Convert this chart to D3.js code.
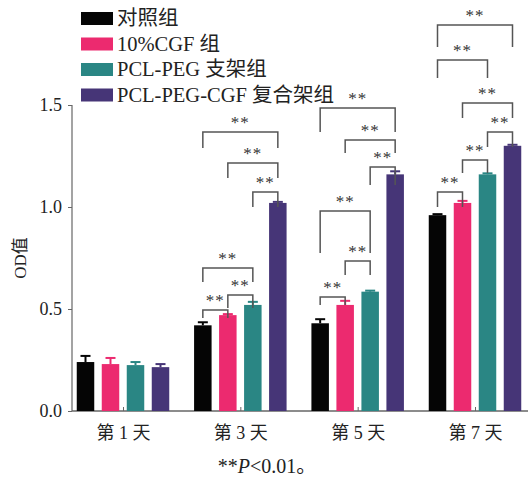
<!DOCTYPE html>
<html><head><meta charset="utf-8">
<script src="https://cdn.jsdelivr.net/npm/d3@7/dist/d3.min.js"></script>
<style>
body{margin:0;background:#fff;}
text{font-family:"Liberation Serif","Times New Roman","Noto Sans CJK SC",serif;}
</style></head>
<body><svg id="c" width="530" height="487"></svg>
<script>
const categories = ["第 1 天","第 3 天","第 5 天","第 7 天"];
const seriesNames = ["对照组","10%CGF 组","PCL-PEG 支架组","PCL-PEG-CGF 复合架组"];
const seriesColors = ["#050505","#ec2a6f","#2a8684","#463577"];
const control   = [0.24,0.42,0.43,0.96];
const cgf       = [0.23,0.47,0.52,1.02];
const scaffold  = [0.225,0.52,0.585,1.16];
const composite = [0.215,1.02,1.16,1.30];
const controlErr   = [0.03,0.015,0.02,0.005];
const cgfErr       = [0.03,0.005,0.02,0.01];
const scaffoldErr  = [0.015,0.015,0.005,0.005];
const compositeErr = [0.015,0.005,0.015,0.005];
const yTicks = [0.0,0.5,1.0,1.5];
// significance brackets: group, from series, to series, level (OD), leg end (OD)
const bracketGroup = [1,1,1,1,1,1, 2,2,2,2,2,2, 3,3,3,3,3,3];
const bracketFrom  = [0,1,2,0,1,0, 0,1,2,0,1,0, 0,0,1,2,1,0];
const bracketTo    = [3,3,3,2,2,1, 3,3,3,2,2,1, 3,2,3,3,2,1];
const bracketLevel = [1.368,1.216,1.074,0.701,0.569,0.495, 1.485,1.328,1.196,0.980,0.735,0.559, 1.892,1.721,1.510,1.368,1.230,1.074];
const bracketLegEnd= [1.289,1.142,1.000,0.632,0.505,0.456, 1.368,1.265,1.108,0.775,0.667,0.520, 1.784,1.632,1.436,1.294,1.167,1.000];

const values = [control,cgf,scaffold,composite];
const errs = [controlErr,cgfErr,scaffoldErr,compositeErr];
const svg = d3.select("#c");
const axisColor = "#666";

const x0 = d3.scalePoint().domain(categories).range([123,475]);
const x1 = d3.scaleBand().domain(d3.range(4)).range([-50,50]).paddingInner(0.3).paddingOuter(0.15);
const y = d3.scaleLinear().domain([0,1.5]).range([411,105]);
const barCx = (g,s)=> x0(categories[g]) + x1(s) + x1.bandwidth()/2;

// axes
svg.append("line").attr("x1",72).attr("x2",528).attr("y1",y(0)).attr("y2",y(0)).attr("stroke",axisColor).attr("stroke-width",1.5);
svg.append("line").attr("x1",72).attr("x2",72).attr("y1",y(0)).attr("y2",y(1.5)).attr("stroke",axisColor).attr("stroke-width",1.2);
const yAxis = svg.append("g").attr("transform","translate(72,0)")
  .call(d3.axisLeft(y).tickValues(yTicks).tickFormat(d3.format(".1f")).tickSize(4).tickPadding(6));
yAxis.select(".domain").remove();
yAxis.selectAll("line").attr("stroke",axisColor);
yAxis.selectAll("text").attr("font-size",18).attr("fill","#222");
const xAxis = svg.append("g").attr("transform",`translate(0,${y(0)})`)
  .call(d3.axisBottom(x0).tickSize(-4).tickPadding(12));
xAxis.select(".domain").remove();
xAxis.selectAll("line").attr("stroke",axisColor);
xAxis.selectAll("text").attr("font-size",18).attr("fill","#222").attr("dy","0.9em");

svg.append("text").attr("transform","translate(26,258) rotate(-90)").attr("text-anchor","middle")
  .attr("font-size",17).attr("fill","#222").text("OD值");

// bars
for(let s=0;s<4;s++){
  const g = svg.append("g");
  categories.forEach((c,i)=>{
    const cx = barCx(i,s), w = x1.bandwidth();
    g.append("rect").attr("x",cx-w/2).attr("y",y(values[s][i])).attr("width",w)
      .attr("height",y(0)-y(values[s][i])).attr("fill",seriesColors[s]);
    const top = y(values[s][i]+errs[s][i]);
    g.append("line").attr("x1",cx).attr("x2",cx).attr("y1",y(values[s][i])).attr("y2",top)
      .attr("stroke",seriesColors[s]).attr("stroke-width",2);
    g.append("line").attr("x1",cx-5).attr("x2",cx+5).attr("y1",top).attr("y2",top)
      .attr("stroke",seriesColors[s]).attr("stroke-width",2);
  });
}

// brackets
bracketGroup.forEach((gi,k)=>{
  const xa = barCx(gi,bracketFrom[k]), xb = barCx(gi,bracketTo[k]);
  const yl = y(bracketLevel[k]), ye = y(bracketLegEnd[k]);
  svg.append("path").attr("d",`M${xa},${ye}V${yl}H${xb}V${ye}`)
    .attr("fill","none").attr("stroke","#555").attr("stroke-width",1.5);
  svg.append("text").attr("x",(xa+xb)/2).attr("y",yl-4).attr("text-anchor","middle")
    .attr("font-size",17).attr("letter-spacing",1).attr("fill","#333").text("**");
});

// legend
seriesNames.forEach((n,i)=>{
  const yy = 12 + i*25.5;
  svg.append("rect").attr("x",81).attr("y",yy).attr("width",32).attr("height",13).attr("fill",seriesColors[i]);
  svg.append("text").attr("x",117).attr("y",yy+13).attr("font-size",20.5).attr("fill","#222").text(n);
});

// footnote
const fn = svg.append("text").attr("x",267).attr("y",473).attr("text-anchor","middle").attr("font-size",20).attr("fill","#222");
fn.append("tspan").text("**");
fn.append("tspan").attr("font-style","italic").text("P");
fn.append("tspan").text("<0.01。");
</script></body></html>
